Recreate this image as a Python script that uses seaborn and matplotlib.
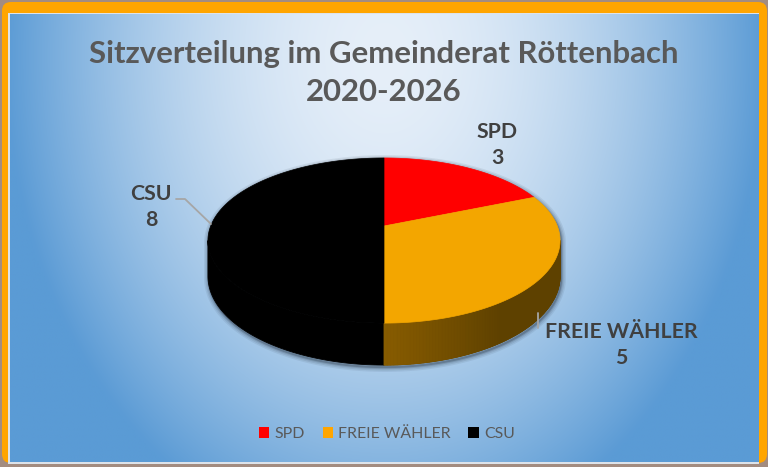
import numpy as np
import matplotlib
matplotlib.use("Agg")
import matplotlib.pyplot as plt
import seaborn as sns
from matplotlib.patches import FancyBboxPatch, Rectangle, Patch, Polygon
from matplotlib.colors import to_rgb

# ---------------- data ----------------
title = "Sitzverteilung im Gemeinderat Röttenbach\n2020-2026"
parties = ["SPD", "FREIE WÄHLER", "CSU"]
seats = [3, 5, 8]
top_colors = ["#ff0000", "#f3a600", "#000000"]
side_light = ["#b00000", "#885c00", "#000000"]
side_dark = ["#b00000", "#5e4100", "#000000"]
legend_colors = ["#ff0000", "#ffa500", "#000000"]

sns.set_style("white")
plt.rcParams['font.family'] = ['Lato', 'DejaVu Sans']

fig = plt.figure(figsize=(7.68, 4.67), dpi=100, facecolor='#a38c80')
ax = fig.add_axes([0, 0, 1, 1])
ax.axis('off')

# ---------------- frame & background ----------------
ax.add_patch(FancyBboxPatch((2, 2), 765, 461, boxstyle="round,pad=0,rounding_size=9",
                            fc='#ffa500', ec='none', zorder=0.2))
ax.add_patch(Rectangle((8, 13), 751, 451, fc='#dde3ea', ec='none', zorder=0.3))
xs = np.linspace(9.5, 758, 400)
ys = np.linspace(14.5, 462.5, 300)
GX, GY = np.meshgrid(xs, ys)
t = np.sqrt(((GX - 384) / 380) ** 2 + ((GY - 55) / 500) ** 2)
f = np.clip(t, 0, 1) ** 1.8
c0 = np.array(to_rgb('#e6eff9'))
c1 = np.array(to_rgb('#5b9bd5'))
img = c0 + (c1 - c0) * f[..., None]
ax.imshow(img, extent=[9.5, 758, 462.5, 14.5], aspect='auto', origin='upper',
          zorder=0.4, interpolation='bilinear')

# ---------------- 3D pie ----------------
cx, cy = 384, 226
A, B, k, T = 80.0, 173.3, 0.176, 34.6
delta = np.degrees(np.arcsin(k))


def proj(phi_deg, depth=0.0):
    p = np.radians(phi_deg)
    X = np.cos(p)
    Z = np.sin(p)
    w = 1 + k * Z
    return cx + B * X / w, cy - A * Z / w + depth * T / w


total = float(sum(seats))
bounds = 90 - 360 * np.cumsum([0] + seats) / total

# shadow (silhouette)
phs_top = np.linspace(-delta, 180 + delta, 140)
phs_bot = np.linspace(180 + delta, 360 - delta, 140)
sx = np.concatenate([proj(phs_top)[0], proj(phs_bot, 1)[0]])
sy = np.concatenate([proj(phs_top)[1], proj(phs_bot, 1)[1]])
for lw, al in [(7, 0.08), (5, 0.1), (3, 0.15), (1.5, 0.25)]:
    ax.add_patch(Polygon(np.c_[sx + 1, sy + 2], closed=True, fc='none',
                         ec='#1a2635', lw=lw, alpha=al, zorder=1.5))

# sides (visible front part)
for i in range(len(seats)):
    a0, a1 = bounds[i], bounds[i + 1]
    lo, hi = max(a1, -180 + delta), min(a0, -delta)
    if hi <= lo:
        continue
    steps = np.linspace(lo, hi, 90)
    tx, ty = proj(steps)
    bx, by = proj(steps[::-1], 1)
    ax.add_patch(Polygon(np.c_[np.r_[tx, bx], np.r_[ty, by]], closed=True,
                         fc=side_dark[i], ec=side_dark[i], lw=0.6, zorder=1.9))
    if side_light[i] == side_dark[i]:
        continue
    cl = np.array(to_rgb(side_light[i]))
    cd = np.array(to_rgb(side_dark[i]))
    for p0, p1 in zip(steps[:-1], steps[1:]):
        s = np.clip(((p0 + p1) / 2 + 90) / 35, 0, 1)
        col = cl + (cd - cl) * s
        x0t, y0t = proj(p0)
        x1t, y1t = proj(p1)
        x0b, y0b = proj(p0, 1)
        x1b, y1b = proj(p1, 1)
        ax.add_patch(Polygon([[x0t, y0t], [x1t, y1t], [x1b, y1b], [x0b, y0b]],
                             closed=True, fc=col, ec=col, lw=0.6, zorder=2))

# tops
for i in range(len(seats)):
    ph = np.linspace(bounds[i], bounds[i + 1], 200)
    px, py = proj(ph)
    ax.add_patch(Polygon(np.c_[np.r_[cx, px], np.r_[cy, py]], closed=True,
                         fc=top_colors[i], ec=top_colors[i], lw=0.5, zorder=3))

# ---------------- labels ----------------
label_pos = [(497, 145), (621, 345), (151, 207)]
for p, s, (lx, ly) in zip(parties, seats, label_pos):
    ax.text(lx, ly, f"{p}\n{s}", ha='center', va='center', fontsize=15.3,
            fontweight='bold', color='#404040', linespacing=1.35, zorder=5)
ax.plot([176, 185, 211], [199, 199, 224], color='#a6a6a6', lw=1.3, zorder=4)
ax.plot([538, 538], [313, 328], color='#a6a6a6', lw=1.3, zorder=4)

ax.text(384, 73, title, ha='center', va='center', fontsize=22.4, fontweight='bold',
        color='#595959', linespacing=1.45, zorder=5)

handles = [Patch(fc=c, ec='none', label=p) for c, p in zip(legend_colors, parties)]
ax.legend(handles=handles, loc='center', bbox_to_anchor=(387 / 768, 1 - 434 / 467),
          ncol=3, frameon=False, fontsize=11.4, handlelength=0.65, handleheight=0.65,
          handletextpad=0.35, columnspacing=1.1, labelcolor='#595959')

ax.set_xlim(0, 768)
ax.set_ylim(467, 0)
fig.savefig("out.png", dpi=100, facecolor=fig.get_facecolor())
